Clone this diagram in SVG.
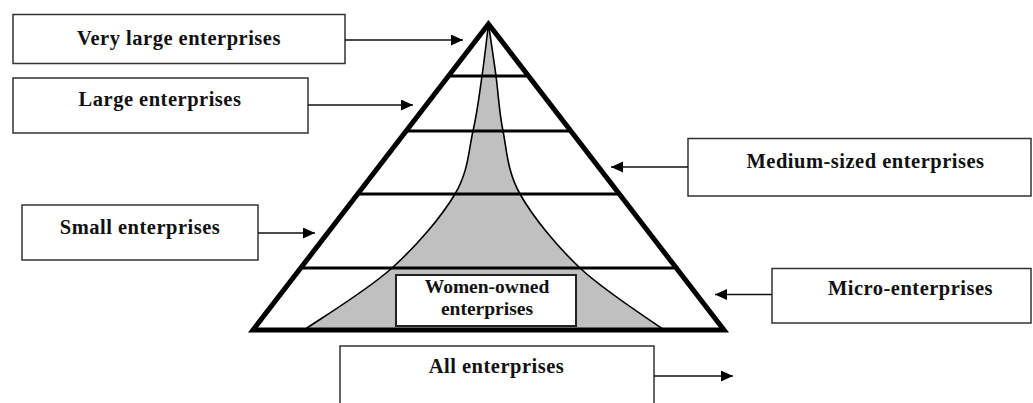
<svg xmlns="http://www.w3.org/2000/svg" width="1033" height="403" viewBox="0 0 1033 403">
<style>
.box{fill:#fff;stroke:#333;stroke-width:1.5}
.lbl{font-family:"Liberation Serif","Times New Roman",serif;font-weight:bold;font-size:20.5px;letter-spacing:0.5px;fill:#111;text-anchor:middle}
.wlbl{font-family:"Liberation Serif","Times New Roman",serif;font-weight:bold;font-size:19.5px;fill:#111;text-anchor:middle}
.conn{stroke:#111;stroke-width:1.6;fill:none;marker-end:url(#ah)}
.tier{stroke:#000;stroke-width:3;fill:none}
</style>
<defs>
<marker id="ah" markerUnits="userSpaceOnUse" markerWidth="13" markerHeight="12" refX="12" refY="5.5" orient="auto">
<path d="M0,0 L12,5.5 L0,11 z" fill="#000"/>
</marker>
</defs>
<rect width="1033" height="403" fill="#fff"/>
<g id="pyramid">
<polygon points="488.5,24 253,330 724,330" fill="#fff"/>
<path d="M304,330 C318.7,319.7 366.8,290.7 392,268 C417.2,245.3 441.5,216.8 455,194 C468.5,171.2 468.5,150.7 473,131 C477.5,111.3 479.4,93.8 482,76 C484.6,58.2 487.4,32.7 488.5,24 C489.75,32.7 493.6,58.2 496,76 C498.4,93.8 499,111.3 503,131 C507,150.7 507.2,171.2 520,194 C532.8,216.8 556,245.3 580,268 C604,290.7 650,319.7 664,330 Z" fill="#c0c0c0" stroke="#000" stroke-width="1.6"/>
<line class="tier" x1="448.5" y1="76" x2="528.5" y2="76"/>
<line class="tier" x1="406" y1="131" x2="571" y2="131"/>
<line class="tier" x1="357.5" y1="194" x2="619.5" y2="194"/>
<line class="tier" x1="300.5" y1="268" x2="676.5" y2="268"/>
<polygon points="488.5,24 253,330 724,330" fill="none" stroke="#000" stroke-width="5" stroke-linejoin="miter" stroke-miterlimit="10"/>
</g>
<g id="women-owned">
<rect x="396" y="275" width="180" height="51" fill="#fff" stroke="#222" stroke-width="2"/>
<text class="wlbl" x="487" y="293">Women-owned</text>
<text class="wlbl" x="487" y="315">enterprises</text>
</g>
<g id="very-large">
<rect class="box" x="13" y="14.5" width="332" height="49"/>
<text class="lbl" x="179" y="45">Very large enterprises</text>
</g>
<g id="large">
<rect class="box" x="13" y="78" width="295" height="55"/>
<text class="lbl" x="160" y="106">Large enterprises</text>
</g>
<g id="small">
<rect class="box" x="22" y="205" width="236" height="55"/>
<text class="lbl" x="140" y="234">Small enterprises</text>
</g>
<g id="medium">
<rect class="box" x="688" y="138.5" width="343" height="57.5"/>
<text class="lbl" x="865.5" y="167.5">Medium-sized enterprises</text>
</g>
<g id="micro">
<rect class="box" x="772" y="268.5" width="259" height="54.5"/>
<text class="lbl" x="910.5" y="295">Micro-enterprises</text>
</g>
<g id="all">
<rect class="box" x="340" y="346" width="314" height="70"/>
<text class="lbl" x="496.5" y="373">All enterprises</text>
</g>
<g id="connectors">
<line class="conn" x1="345" y1="40" x2="463" y2="40"/>
<line class="conn" x1="308" y1="105" x2="413" y2="105"/>
<line class="conn" x1="258" y1="233" x2="315" y2="233"/>
<line class="conn" x1="688" y1="167" x2="611" y2="167"/>
<line class="conn" x1="772" y1="294.5" x2="715" y2="294.5"/>
<line class="conn" x1="654" y1="376" x2="733" y2="376"/>
</g>
</svg>
